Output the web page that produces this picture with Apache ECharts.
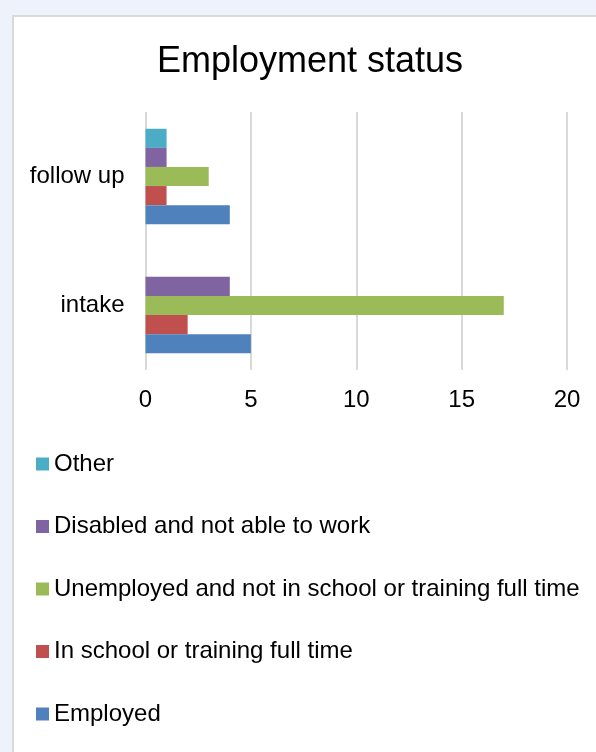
<!DOCTYPE html>
<html>
<head>
<meta charset="utf-8">
<script src="https://cdn.jsdelivr.net/npm/echarts@6/dist/echarts.min.js"></script>
<style>
  html, body { margin: 0; padding: 0; width: 596px; height: 752px; overflow: hidden; background: #eef3fb; }
  #chart { position: absolute; left: 12px; top: 15px; width: 592px; height: 740px; border: 2px solid #d9d9d9; background: #fff; }
</style>
</head>
<body>
<div id="chart"></div>
<script>
const categories = ['intake', 'follow up']
const employed = [5, 4]
const inSchool = [2, 1]
const unemployed = [17, 3]
const disabled = [4, 1]
const other = [0, 1]
const xTicks = [0, 5, 10, 15, 20]

const font = 'Liberation Sans, Arial, sans-serif'

// listed top to bottom inside each group, same as the legend
const seriesDefs = [
  { name: 'Other', data: other, color: '#4bacc6' },
  { name: 'Disabled and not able to work', data: disabled, color: '#8064a2' },
  { name: 'Unemployed and not in school or training full time', data: unemployed, color: '#9bbb59' },
  { name: 'In school or training full time', data: inSchool, color: '#c0504d' },
  { name: 'Employed', data: employed, color: '#4f81bd' },
]

const chart = echarts.init(document.getElementById('chart'))

chart.setOption({
  animation: false,
  textStyle: { fontFamily: font },
  title: {
    text: 'Employment status',
    left: 'center',
    top: 22,
    textStyle: { fontFamily: font, fontSize: 36, fontWeight: 'normal', color: '#000' },
  },
  legend: {
    orient: 'vertical',
    left: 22,
    top: 435,
    padding: 0,
    itemWidth: 13,
    itemHeight: 13,
    itemGap: 38.5,
    icon: 'rect',
    data: seriesDefs.map(s => s.name),
    textStyle: { fontFamily: font, fontSize: 24, color: '#000' },
  },
  grid: { left: 131.5, top: 95, width: 421.5, height: 258, containLabel: false },
  xAxis: {
    type: 'value',
    min: xTicks[0],
    max: xTicks[xTicks.length - 1],
    interval: 5,
    axisLine: { show: false },
    axisTick: { show: false },
    splitLine: { lineStyle: { color: '#d9d9d9', width: 2 } },
    axisLabel: { fontFamily: font, fontSize: 24, color: '#000', margin: 18 },
  },
  yAxis: {
    type: 'category',
    data: categories,
    axisLine: { show: false },
    axisTick: { show: false },
    axisLabel: { fontFamily: font, fontSize: 24, color: '#000', margin: 21, padding: [4, 0, 0, 0] },
  },
  series: seriesDefs.map(s => ({
    name: s.name,
    type: 'bar',
    data: s.data,
    barGap: '0%',
    barCategoryGap: '26%',
    itemStyle: { color: s.color },
  })),
})
</script>
</body>
</html>
